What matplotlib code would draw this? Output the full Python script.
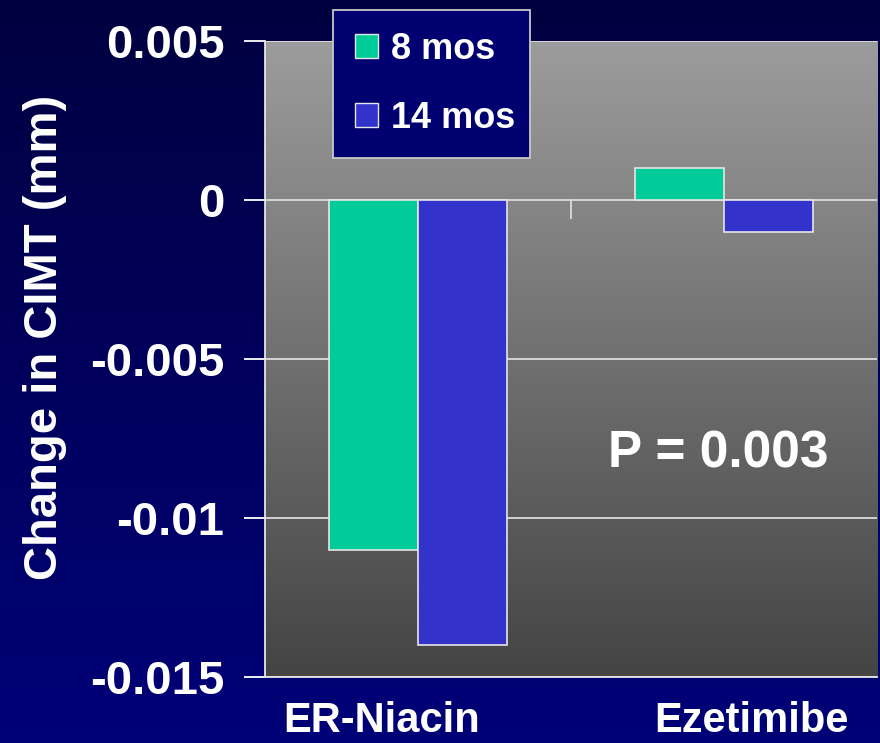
import numpy as np
import matplotlib
matplotlib.use("Agg")
import matplotlib.pyplot as plt
from matplotlib.patches import Patch

plt.rcParams['font.family'] = ['Liberation Sans', 'DejaVu Sans']
plt.rcParams['font.weight'] = 'bold'

groups = ["ER-Niacin", "Ezetimibe"]
series = ["8 mos", "14 mos"]
vals_8 = [-0.011, 0.001]
vals_14 = [-0.014, -0.001]
colors = ["#00cc99", "#3333cc"]
yticks = [0.005, 0, -0.005, -0.01, -0.015]
ytick_labels = ["0.005", "0", "-0.005", "-0.01", "-0.015"]

fig = plt.figure(figsize=(8.8, 7.43), dpi=100)

# navy background gradient
bg = fig.add_axes([0, 0, 1, 1])
grad = np.linspace(0, 1, 256)
navy = np.zeros((256, 1, 3))
navy[:, 0, 2] = (0x40 + (0x78 - 0x40) * grad) / 255
bg.imshow(navy, aspect='auto', extent=[0, 1, 0, 1], origin='upper')
bg.axis('off')

ax = fig.add_axes([0.301, 0.0888, 0.696, 0.856])
ax.set_facecolor('none')

# gray plot-area gradient
g = np.linspace(0x9c, 0x44, 256) / 255
gray = np.dstack([g, g, g]).reshape(256, 1, 3)
ax.imshow(gray, aspect='auto', extent=[-0.5, 1.5, -0.015, 0.005],
          origin='upper', zorder=0)

x = np.arange(len(groups))
w = 0.29
ax.bar(x - w / 2, vals_8, w, color=colors[0], edgecolor='#e6e6e6',
       linewidth=1.2, zorder=3, label=series[0])
ax.bar(x + w / 2, vals_14, w, color=colors[1], edgecolor='#e6e6e6',
       linewidth=1.2, zorder=3, label=series[1])

for yv in yticks:
    ax.axhline(yv, color='#dcdcdc', lw=1.3, zorder=1)
# category divider tick on the zero line
ax.plot([0.5, 0.5], [0, -0.00057], color='#dcdcdc', lw=1.3, zorder=1)

ax.set_xlim(-0.5, 1.5)
ax.set_ylim(-0.015, 0.005)
ax.set_yticks(yticks)
ax.set_yticklabels(ytick_labels)
ax.set_xticks([-0.12, 1.09])
ax.set_xticklabels(groups)
ax.tick_params(axis='y', colors='white', labelsize=34, length=15, width=1.3,
               pad=14, direction='out')
ax.tick_params(axis='x', colors='white', labelsize=30, length=0, pad=17)
for s in ['top', 'right']:
    ax.spines[s].set_visible(False)
for s in ['left', 'bottom']:
    ax.spines[s].set_color('#e6e6e6')
    ax.spines[s].set_linewidth(1.3)

fig.text(0.051, 1 - 580 / 743, "Change in CIMT (mm)", rotation=90,
         color='white', fontsize=34, fontweight='bold', ha='center', va='bottom')

ax.text(0.98, -0.0080, "P = 0.003", color='white', fontsize=37,
        fontweight='bold', ha='center', va='center', zorder=4)

handles = [Patch(facecolor=colors[0], edgecolor='#e6e6e6'),
           Patch(facecolor=colors[1], edgecolor='#e6e6e6')]
leg = ax.legend(handles, series, loc='upper left',
                bbox_to_anchor=(333 / 880, 1 - 150 / 743, 197 / 880, 140 / 743),
                bbox_transform=fig.transFigure, mode='expand',
                fontsize=26, handlelength=0.65, handleheight=0.65,
                handletextpad=0.35, labelspacing=0.95, borderpad=0.6,
                borderaxespad=0, fancybox=False, framealpha=1,
                facecolor='#000070', edgecolor='#c8c8c8', labelcolor='white')
leg.get_frame().set_linewidth(1.3)
leg.set_zorder(5)

fig.savefig("out.png", dpi=100)
